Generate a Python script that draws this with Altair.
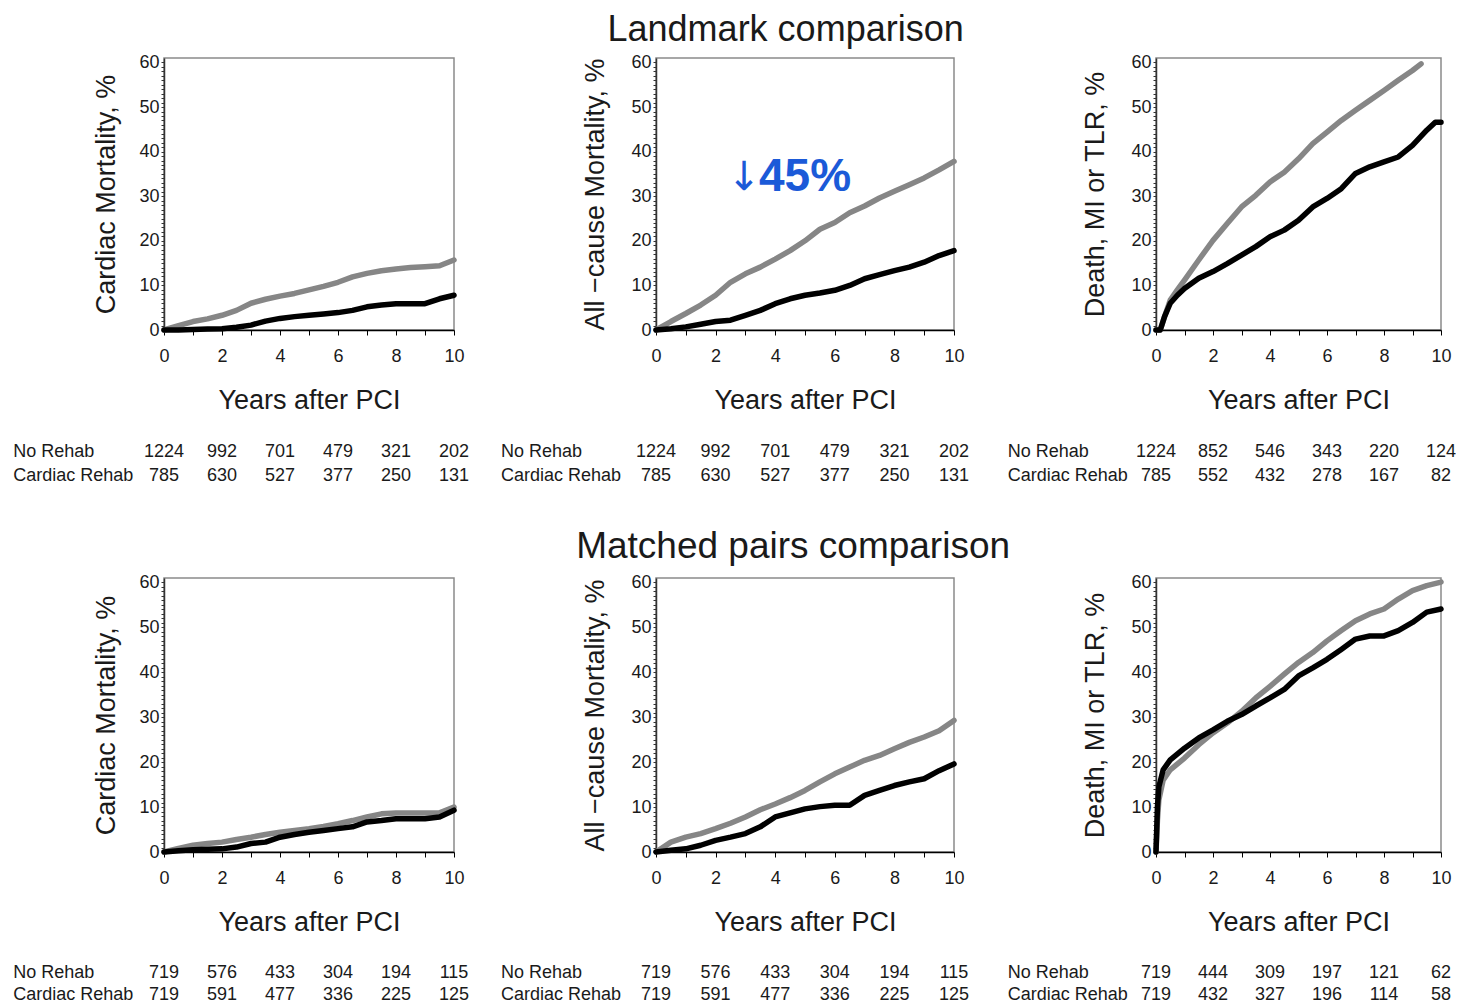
import altair as alt
import pandas as pd

FONT = "Liberation Sans"
GRAY = "#868686"
BLACK = "#000000"
BLUE = "#1b5ad8"
TXT = "#1a1a1a"

# ---------------- data ----------------
T_HALF = [0, 0.5, 1, 1.5, 2, 2.5, 3, 3.5, 4, 4.5, 5, 5.5, 6, 6.5, 7, 7.5, 8, 8.5, 9, 9.5, 10]

# Landmark comparison - Cardiac mortality
lm_cm_no = [0, 1.0, 1.9, 2.5, 3.3, 4.4, 6.0, 6.9, 7.6, 8.2, 9.0, 9.8, 10.7, 11.9, 12.7, 13.3, 13.7, 14.0, 14.2, 14.4, 15.7]
lm_cm_cr = [0, 0, 0.1, 0.2, 0.3, 0.6, 1.1, 2.0, 2.6, 3.0, 3.3, 3.6, 3.9, 4.4, 5.2, 5.6, 5.9, 5.9, 5.9, 7.0, 7.8]

# Landmark comparison - All-cause mortality
lm_ac_no = [0, 1.9, 3.7, 5.6, 7.8, 10.7, 12.6, 14.1, 15.9, 17.8, 20.0, 22.6, 24.1, 26.3, 27.8, 29.6, 31.1, 32.6, 34.1, 35.9, 37.8]
lm_ac_cr = [0, 0.3, 0.7, 1.3, 1.9, 2.2, 3.3, 4.4, 5.9, 7.0, 7.8, 8.3, 8.9, 10.0, 11.5, 12.4, 13.3, 14.1, 15.2, 16.7, 17.8]

# Landmark comparison - Death, MI or TLR
lm_dm_t_no = [0, 0.15, 0.3, 0.5, 0.75, 1, 1.5, 2, 2.5, 3, 3.5, 4, 4.5, 5, 5.5, 6, 6.5, 7, 7.5, 8, 8.5, 9, 9.3]
lm_dm_no = [0, 0, 3.0, 6.7, 9.0, 11.2, 15.7, 20.1, 23.9, 27.6, 30.2, 33.2, 35.4, 38.4, 41.8, 44.4, 47.0, 49.3, 51.5, 53.7, 56.0, 58.2, 59.7]
lm_dm_t_cr = [0, 0.15, 0.3, 0.5, 0.75, 1, 1.5, 2, 2.5, 3, 3.5, 4, 4.5, 5, 5.5, 6, 6.5, 7, 7.5, 8, 8.5, 9, 9.5, 9.8, 10]
lm_dm_cr = [0, 0, 3.0, 6.0, 7.8, 9.3, 11.6, 13.1, 14.9, 16.8, 18.7, 20.9, 22.4, 24.6, 27.6, 29.5, 31.7, 35.1, 36.6, 37.7, 38.8, 41.4, 44.8, 46.6, 46.6]

# Matched pairs comparison - Cardiac mortality
mp_cm_no = [0, 0.8, 1.5, 1.9, 2.2, 2.8, 3.3, 3.9, 4.4, 4.8, 5.2, 5.7, 6.3, 7.0, 7.8, 8.5, 8.7, 8.7, 8.7, 8.7, 10.0]
mp_cm_cr = [0, 0.3, 0.5, 0.6, 0.7, 1.1, 1.9, 2.2, 3.3, 3.9, 4.4, 4.8, 5.2, 5.6, 6.7, 7.0, 7.4, 7.4, 7.4, 7.8, 9.3]

# Matched pairs comparison - All-cause mortality
mp_ac_no = [0, 2.2, 3.3, 4.1, 5.2, 6.4, 7.8, 9.4, 10.7, 12.1, 13.7, 15.6, 17.4, 18.9, 20.4, 21.5, 23.0, 24.4, 25.6, 27.0, 29.3]
mp_ac_cr = [0, 0.4, 0.7, 1.5, 2.6, 3.3, 4.1, 5.6, 7.8, 8.7, 9.6, 10.1, 10.4, 10.4, 12.6, 13.7, 14.8, 15.6, 16.3, 18.1, 19.6]

# Matched pairs comparison - Death, MI or TLR
mp_dm_t = [0, 0.05, 0.1, 0.25, 0.5, 1, 1.5, 2, 2.5, 3, 3.5, 4, 4.5, 5, 5.5, 6, 6.5, 7, 7.5, 8, 8.5, 9, 9.5, 10]
mp_dm_no = [0, 7, 11.6, 16, 18.3, 20.9, 23.9, 26.5, 28.7, 31.3, 34.3, 36.9, 39.6, 42.2, 44.4, 47.0, 49.3, 51.5, 53.0, 54.1, 56.3, 58.2, 59.3, 60.1]
mp_dm_cr = [0, 10, 14.5, 18.3, 20.5, 23.1, 25.4, 27.2, 29.1, 30.6, 32.5, 34.3, 36.2, 39.2, 41.0, 42.9, 45.1, 47.4, 48.1, 48.1, 49.3, 51.1, 53.4, 54.1]

# Numbers at risk
RISK_T = [0, 2, 4, 6, 8, 10]
lm_cm_risk_no = [1224, 992, 701, 479, 321, 202]
lm_cm_risk_cr = [785, 630, 527, 377, 250, 131]
lm_ac_risk_no = [1224, 992, 701, 479, 321, 202]
lm_ac_risk_cr = [785, 630, 527, 377, 250, 131]
lm_dm_risk_no = [1224, 852, 546, 343, 220, 124]
lm_dm_risk_cr = [785, 552, 432, 278, 167, 82]
mp_cm_risk_no = [719, 576, 433, 304, 194, 115]
mp_cm_risk_cr = [719, 591, 477, 336, 225, 125]
mp_ac_risk_no = [719, 576, 433, 304, 194, 115]
mp_ac_risk_cr = [719, 591, 477, 336, 225, 125]
mp_dm_risk_no = [719, 444, 309, 197, 121, 62]
mp_dm_risk_cr = [719, 432, 327, 196, 114, 58]

ROW_LABELS = ["No Rehab", "Cardiac Rehab"]
LABEL_T = -5.2

ANNOT_ARROW = {"t": 2.95, "v": 34.0, "text": "\u2193"}
ANNOT_PCT = {"t": 5.0, "v": 34.3, "text": "45%"}

X_TICKS = [i / 2 for i in range(0, 21)]
Y_TICKS = list(range(0, 61))


def panel(ytitle, t_no, v_no, t_cr, v_cr, risk_no, risk_cr, width, height,
          ytitle_pad=18, risk_off=(122, 146), annot=False):
    xs = alt.Scale(domain=[0, 10], nice=False, zero=False)
    ys = alt.Scale(domain=[0, 61], nice=False)
    xaxis = alt.Axis(
        title="Years after PCI", values=X_TICKS, format="d",
        labelExpr="datum.value % 2 === 0 ? datum.label : ''",
        labelOverlap=False, labelFlush=False, tickSize=5, labelPadding=12,
        labelFontSize=18, titleFontSize=27, titleFontWeight="normal", titlePadding=22,
        domainColor="black", domainWidth=1.5, tickColor="black", grid=False,
    )
    yaxis = alt.Axis(
        title=ytitle, values=Y_TICKS, format="d",
        labelExpr="datum.value % 10 === 0 ? datum.label : ''",
        labelOverlap=False, labelFlush=False, tickSize=3, labelPadding=2,
        labelFontSize=18, titleFontSize=27, titleFontWeight="normal", titlePadding=ytitle_pad,
        domainColor="#333333", domainWidth=1.5, tickColor="#333333", grid=False,
    )

    def X(field):
        return alt.X(field, type="quantitative", scale=xs, axis=xaxis)

    def Y(field):
        return alt.Y(field, type="quantitative", scale=ys, axis=yaxis)

    df_no = pd.DataFrame({"t": t_no, "v": v_no})
    df_cr = pd.DataFrame({"t": t_cr, "v": v_cr})
    line_no = alt.Chart(df_no).mark_line(
        color=GRAY, strokeWidth=5.5, strokeJoin="round", strokeCap="round"
    ).encode(x=X("t"), y=Y("v"))
    line_cr = alt.Chart(df_cr).mark_line(
        color=BLACK, strokeWidth=5.5, strokeJoin="round", strokeCap="round"
    ).encode(x=X("t"), y=Y("v"))

    layers = [line_no, line_cr]

    for lab, nums, off in zip(ROW_LABELS, [risk_no, risk_cr], risk_off):
        ldf = pd.DataFrame({"t": [LABEL_T], "lab": [lab]})
        layers.append(
            alt.Chart(ldf).mark_text(
                font=FONT, fontSize=18, align="left", baseline="middle", color=TXT
            ).encode(x=X("t"), y=alt.value(height + off), text="lab:N")
        )
        ndf = pd.DataFrame({"t": RISK_T, "n": nums})
        layers.append(
            alt.Chart(ndf).mark_text(
                font=FONT, fontSize=18, align="center", baseline="middle", color=TXT
            ).encode(x=X("t"), y=alt.value(height + off), text=alt.Text("n:Q", format="d"))
        )

    if annot:
        adf = pd.DataFrame([ANNOT_ARROW])
        layers.append(
            alt.Chart(adf).mark_text(
                font="DejaVu Sans", fontSize=40, align="center", baseline="middle", color=BLUE
            ).encode(x=X("t"), y=Y("v"), text="text:N")
        )
        pdf = pd.DataFrame([ANNOT_PCT])
        layers.append(
            alt.Chart(pdf).mark_text(
                font=FONT, fontSize=46, fontWeight="bold", align="center", baseline="middle", color=BLUE
            ).encode(x=X("t"), y=Y("v"), text="text:N")
        )

    return alt.layer(*layers).properties(width=width, height=height)


H1, H2 = 272, 274
W1, W2, W3 = 290, 298, 285
SP = 202
OFF1 = (122, 146)
OFF2 = (121, 143)

row1 = alt.hconcat(
    panel("Cardiac Mortality, %", T_HALF, lm_cm_no, T_HALF, lm_cm_cr, lm_cm_risk_no, lm_cm_risk_cr,
          W1, H1, ytitle_pad=18, risk_off=OFF1),
    panel("All \u2212cause Mortality, %", T_HALF, lm_ac_no, T_HALF, lm_ac_cr, lm_ac_risk_no, lm_ac_risk_cr,
          W2, H1, ytitle_pad=21, risk_off=OFF1, annot=True),
    panel("Death, MI or TLR, %", lm_dm_t_no, lm_dm_no, lm_dm_t_cr, lm_dm_cr, lm_dm_risk_no, lm_dm_risk_cr,
          W3, H1, ytitle_pad=21, risk_off=OFF1),
    spacing=SP, bounds="flush",
).properties(title=alt.TitleParams(
    "Landmark comparison", font=FONT, fontSize=36, fontWeight="normal", color=TXT,
    anchor="middle", frame="bounds", dx=51, offset=4,
))

row2 = alt.hconcat(
    panel("Cardiac Mortality, %", T_HALF, mp_cm_no, T_HALF, mp_cm_cr, mp_cm_risk_no, mp_cm_risk_cr,
          W1, H2, ytitle_pad=18, risk_off=OFF2),
    panel("All \u2212cause Mortality, %", T_HALF, mp_ac_no, T_HALF, mp_ac_cr, mp_ac_risk_no, mp_ac_risk_cr,
          W2, H2, ytitle_pad=21, risk_off=OFF2),
    panel("Death, MI or TLR, %", mp_dm_t, mp_dm_no, mp_dm_t, mp_dm_cr, mp_dm_risk_no, mp_dm_risk_cr,
          W3, H2, ytitle_pad=21, risk_off=OFF2),
    spacing=SP, bounds="flush",
).properties(title=alt.TitleParams(
    "Matched pairs comparison", font=FONT, fontSize=37, fontWeight="normal", color=TXT,
    anchor="middle", frame="bounds", dx=61, offset=7,
))

chart = alt.vconcat(row1, row2, spacing=41).properties(
    padding={"left": 4, "top": 3, "right": -1, "bottom": -1},
    background="white",
).configure_view(
    stroke="#8a8a8a", strokeWidth=1.5
).configure_axis(
    labelFont=FONT, titleFont=FONT, labelColor=TXT, titleColor=TXT,
)

chart.save("out.html", embed_options={"renderer": "svg", "actions": False})
